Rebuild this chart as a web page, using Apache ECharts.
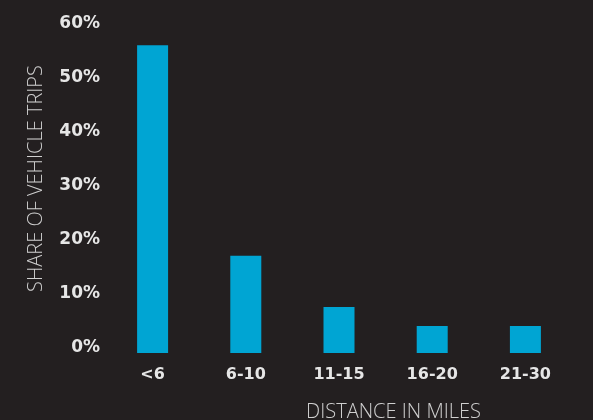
<!DOCTYPE html>
<html>
<head>
<meta charset="utf-8">
<script src="https://cdn.jsdelivr.net/npm/echarts@6/dist/echarts.min.js"></script>
<style>
  html, body { margin: 0; padding: 0; background: #231f20; }
  #chart { width: 593px; height: 420px; }
</style>
</head>
<body>
<div id="chart"></div>
<script>
// distance buckets and share of trips (%)
const categories = ['<6', '6-10', '11-15', '16-20', '21-30'];
const shares = [57, 18, 8.5, 5, 5];
const yTicks = [0, 10, 20, 30, 40, 50, 60];

const myChart = echarts.init(document.getElementById('chart'));

myChart.setOption({
  backgroundColor: '#231f20',
  animation: false,
  grid: {
    left: 106,
    right: 21,
    top: 29,
    bottom: 67,
    outerBoundsMode: 'none',
    containLabel: false
  },
  xAxis: {
    type: 'category',
    data: categories,
    axisLine: { show: false },
    axisTick: { show: false },
    axisLabel: {
      color: '#e6e6e6',
      fontFamily: 'DejaVu Sans',
      fontWeight: 'bold',
      fontSize: 16,
      margin: 14
    },
    name: 'DISTANCE IN MILES',
    nameLocation: 'middle',
    nameGap: 49,
    nameTextStyle: {
      color: '#cfcfcf',
      fontFamily: 'Open Sans',
      fontWeight: 300,
      fontSize: 20,
      padding: [0, 0, 0, 109]
    }
  },
  yAxis: {
    type: 'value',
    min: yTicks[0],
    max: yTicks[yTicks.length - 1],
    interval: 10,
    splitLine: { show: false },
    axisLine: { show: false },
    axisTick: { show: false },
    axisLabel: {
      color: '#e6e6e6',
      fontFamily: 'DejaVu Sans',
      fontWeight: 'bold',
      fontSize: 17,
      margin: 6,
      verticalAlign: 'bottom',
      lineHeight: 10,
      formatter: v => v + '%'
    },
    name: 'SHARE OF VEHICLE TRIPS',
    nameLocation: 'middle',
    nameRotate: 90,
    nameGap: 60,
    nameTextStyle: {
      color: '#cfcfcf',
      fontFamily: 'Open Sans',
      fontWeight: 300,
      fontSize: 20,
      padding: [0, 0, 0, 25]
    }
  },
  series: [{
    type: 'bar',
    data: shares,
    barWidth: 31,
    itemStyle: { color: '#00a5d3' }
  }]
});

window.onresize = function () {
  myChart.resize();
};
</script>
</body>
</html>
